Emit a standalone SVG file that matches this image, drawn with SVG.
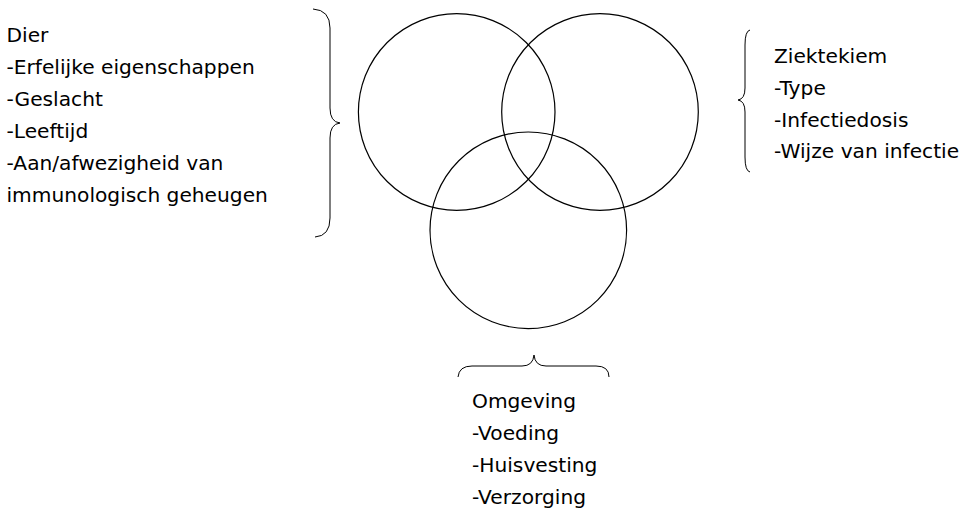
<svg xmlns="http://www.w3.org/2000/svg" width="968" height="510" viewBox="0 0 968 510">
<style>
.c{fill:none;stroke:#000;stroke-width:1.2}
.b{fill:none;stroke:#000;stroke-width:1}
text{font-family:"DejaVu Sans","Liberation Sans",sans-serif;font-size:20.2px;fill:#000}
</style>
<rect width="968" height="510" fill="#fff"/>
<g id="circles">
<circle id="circle-dier" class="c" cx="456.7" cy="112" r="98.3"/>
<circle id="circle-ziektekiem" class="c" cx="600" cy="112" r="98.3"/>
<circle id="circle-omgeving" class="c" cx="528.3" cy="230.3" r="98.3"/>
</g>
<g id="connectors">
<path id="brace-left" class="b" d="M313,9 Q330,10 330,28 L330,108 Q330,122 340,123 Q330,124 330,138 L330,218 Q330,236 315,237"/>
<path id="brace-right" class="b" d="M750,30 Q745,31 745,45 L745,88 Q745,99 738,100 Q745,101 745,112 L745,157 Q745,171 750,172"/>
<path id="brace-bottom" class="b" d="M458,377 Q459,366 472,366 L522,366 Q533,366 534,355 Q535,366 546,366 L596,366 Q609,366 609,377"/>
</g>
<g id="node-dier">
<text x="6.5" y="41.7">Dier</text>
<text x="6.5" y="73.5">-Erfelijke eigenschappen</text>
<text x="6.5" y="105.5">-Geslacht</text>
<text x="6.5" y="137.5">-Leeftijd</text>
<text x="6.5" y="169.5">-Aan/afwezigheid van</text>
<text x="6.5" y="201.5">immunologisch geheugen</text>
</g>
<g id="node-ziektekiem">
<text x="774" y="63.3">Ziektekiem</text>
<text x="774" y="95">-Type</text>
<text x="774" y="126.7">-Infectiedosis</text>
<text x="774" y="158.4">-Wijze van infectie</text>
</g>
<g id="node-omgeving">
<text x="472" y="408">Omgeving</text>
<text x="472" y="440">-Voeding</text>
<text x="472" y="472">-Huisvesting</text>
<text x="472" y="504">-Verzorging</text>
</g>
</svg>
